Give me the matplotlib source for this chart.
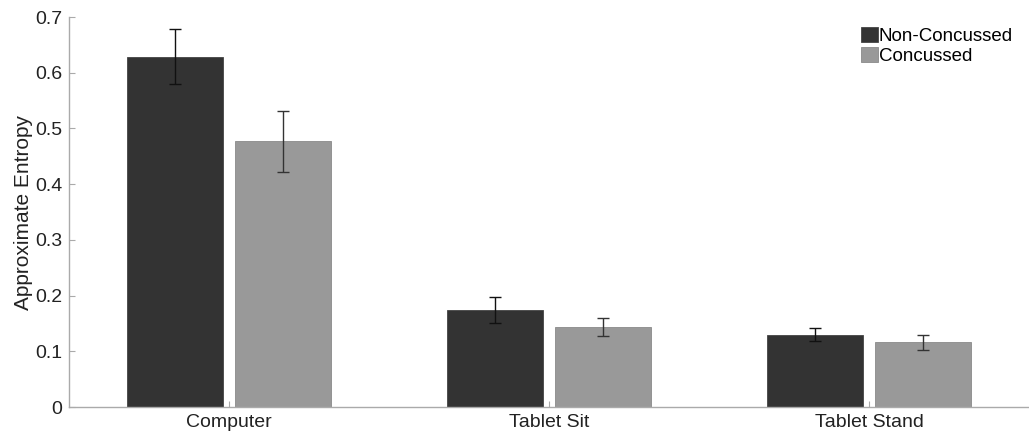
import numpy as np
import matplotlib.pyplot as plt

plt.rcParams['font.family'] = ['Liberation Sans', 'DejaVu Sans']

# approximate entropy per condition
conditions = ['Computer', 'Tablet Sit', 'Tablet Stand']
non_concussed = [0.629, 0.174, 0.130]
non_concussed_err = [0.049, 0.024, 0.011]
concussed = [0.477, 0.143, 0.116]
concussed_err = [0.055, 0.016, 0.013]

x = np.arange(1, len(conditions) + 1)
w = 0.30
off = 0.168

fig = plt.figure(figsize=(10.29, 4.34), dpi=100)
ax = fig.add_axes([0.0671, 0.0622, 0.9329, 0.8986])

ax.bar(x - off, non_concussed, w, color='#333333', edgecolor='#444444',
       linewidth=0.6, label='Non-Concussed')
ax.bar(x + off, concussed, w, color='#999999', edgecolor='#8a8a8a',
       linewidth=0.6, label='Concussed')
ax.errorbar(x - off, non_concussed, yerr=non_concussed_err, fmt='none',
            ecolor='#111111', elinewidth=1, capsize=4.5, capthick=1)
ax.errorbar(x + off, concussed, yerr=concussed_err, fmt='none',
            ecolor='#333333', elinewidth=1, capsize=4.5, capthick=1)

ax.set_xlim(0.5, 3.5)
ax.set_ylim(0, 0.7)
ax.set_xticks(x)
ax.set_xticklabels(conditions)
ax.set_yticks(np.arange(0, 0.71, 0.1))
ax.set_yticklabels(['0', '0.1', '0.2', '0.3', '0.4', '0.5', '0.6', '0.7'])
ax.tick_params(direction='in', length=4, color='#aaaaaa', labelsize=14,
               labelcolor='#222222')
ax.tick_params(axis='y', pad=5)
ax.tick_params(axis='x', pad=5)
for s in ['top', 'right']:
    ax.spines[s].set_visible(False)
for s in ['left', 'bottom']:
    ax.spines[s].set_color('#aaaaaa')
    ax.spines[s].set_linewidth(1)
ax.set_ylabel('Approximate Entropy', fontsize=15, color='#222222', labelpad=1)

leg = ax.legend(loc='upper right', bbox_to_anchor=(0.983, 0.975), frameon=False,
                fontsize=13.5, handlelength=0.9, handleheight=0.9,
                handletextpad=0.05, labelspacing=0.08, borderaxespad=0,
                borderpad=0)

fig.savefig('out.png', dpi=100)
